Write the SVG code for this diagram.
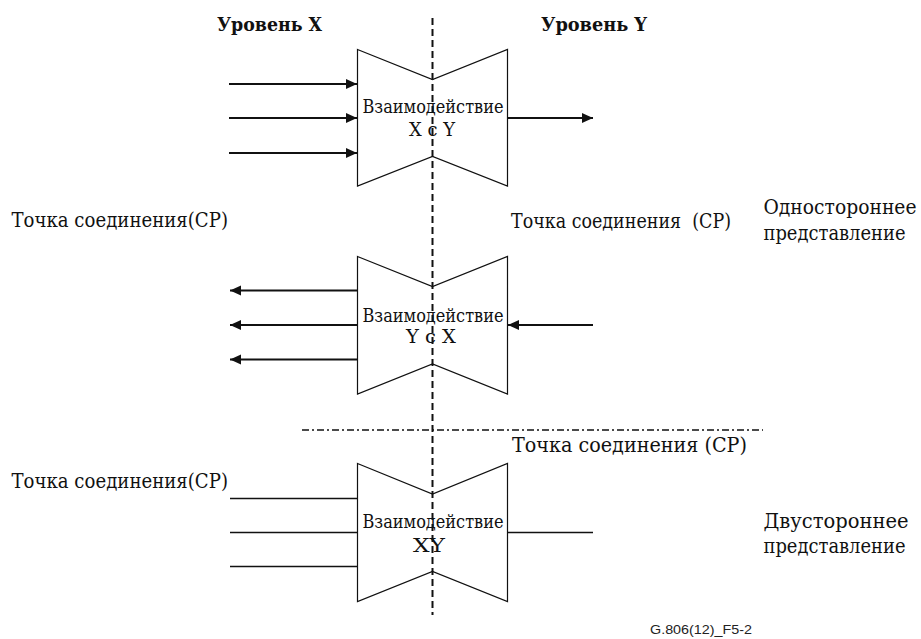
<svg xmlns="http://www.w3.org/2000/svg" width="921" height="639" viewBox="0 0 921 639">
<style>
.t{font-family:"DejaVu Serif","Liberation Serif",serif;font-size:21px;font-stretch:condensed;fill:#111;white-space:pre}
.i{font-size:18.5px}
.b{font-weight:bold;font-size:18px}
.c{text-anchor:middle}
.s{font-family:"Liberation Sans",Arial,sans-serif;font-size:13.5px;fill:#222}
.shape{fill:#fff;stroke:#111;stroke-width:1.2}
.arr{stroke:#111;stroke-width:2;fill:none}
.ln{stroke:#111;stroke-width:1.4;fill:none}
</style>
<defs>
<marker id="ah" markerUnits="userSpaceOnUse" markerWidth="12" markerHeight="12" viewBox="0 0 12 12" refX="11" refY="6" orient="auto">
<path d="M0,1 L11,6 L0,11 Z" fill="#111"/>
</marker>
</defs>
<g id="header">
<text class="t b" x="217" y="31" textLength="105" lengthAdjust="spacingAndGlyphs">Уровень X</text>
<text class="t b" x="541" y="31" textLength="106" lengthAdjust="spacingAndGlyphs">Уровень Y</text>
</g>
<g id="node-xy-top">
<path class="shape" d="M357.5,49.5 L432.5,79.5 L507.5,49.5 L507.5,186 L432.5,156.5 L357.5,186 Z"/>
<text class="t i c" x="433" y="112.5" textLength="141" lengthAdjust="spacingAndGlyphs">Взаимодействие</text>
<text class="t i c" x="432" y="136" textLength="46" lengthAdjust="spacingAndGlyphs">X c Y</text>
</g>
<g id="node-yx-mid">
<path class="shape" d="M357.5,256.5 L432.5,286.5 L507.5,256.5 L507.5,394 L432.5,364 L357.5,394 Z"/>
<text class="t i c" x="433" y="321.5" textLength="141" lengthAdjust="spacingAndGlyphs">Взаимодействие</text>
<text class="t i c" x="431" y="343" textLength="50" lengthAdjust="spacingAndGlyphs">Y c X</text>
</g>
<g id="node-xy-bottom">
<path class="shape" d="M357.5,463.5 L432.5,494 L507.5,463.5 L507.5,601.5 L432.5,571.5 L357.5,601.5 Z"/>
<text class="t i c" x="433" y="527.5" textLength="141" lengthAdjust="spacingAndGlyphs">Взаимодействие</text>
<text class="t i c" x="429" y="552" textLength="32" lengthAdjust="spacingAndGlyphs">XY</text>
</g>
<g id="connectors">
<line class="arr" x1="229" y1="84" x2="357" y2="84" marker-end="url(#ah)"/>
<line class="arr" x1="229" y1="118" x2="357" y2="118" marker-end="url(#ah)"/>
<line class="arr" x1="229" y1="153" x2="357" y2="153" marker-end="url(#ah)"/>
<line class="arr" x1="508" y1="118" x2="593" y2="118" marker-end="url(#ah)"/>
<line class="arr" x1="357" y1="290.5" x2="230" y2="290.5" marker-end="url(#ah)"/>
<line class="arr" x1="357" y1="325" x2="230" y2="325" marker-end="url(#ah)"/>
<line class="arr" x1="357" y1="359.5" x2="230" y2="359.5" marker-end="url(#ah)"/>
<line class="arr" x1="593" y1="325" x2="508" y2="325" marker-end="url(#ah)"/>
<line class="ln" x1="230" y1="498.5" x2="357.5" y2="498.5"/>
<line class="ln" x1="230" y1="532.5" x2="357.5" y2="532.5"/>
<line class="ln" x1="230" y1="566.5" x2="357.5" y2="566.5"/>
<line class="ln" x1="507.5" y1="532.5" x2="593" y2="532.5"/>
</g>
<g id="labels">
<text class="t" x="11.5" y="227" textLength="216.5" lengthAdjust="spacingAndGlyphs">Точка соединения(CP)</text>
<text class="t" x="511" y="228" textLength="220" lengthAdjust="spacingAndGlyphs">Точка соединения  (CP)</text>
<text class="t" x="763.5" y="214" textLength="153" lengthAdjust="spacingAndGlyphs">Одностороннее</text>
<text class="t" x="763.5" y="239.5" textLength="142" lengthAdjust="spacingAndGlyphs">представление</text>
<text class="t" x="512" y="451.5" textLength="235" lengthAdjust="spacingAndGlyphs">Точка соединения (CP)</text>
<text class="t" x="11.5" y="488" textLength="216.5" lengthAdjust="spacingAndGlyphs">Точка соединения(CP)</text>
<text class="t" x="763.5" y="528" textLength="145" lengthAdjust="spacingAndGlyphs">Двустороннее</text>
<text class="t" x="763.5" y="553" textLength="142" lengthAdjust="spacingAndGlyphs">представление</text>
<text class="s" x="650" y="634" textLength="102" lengthAdjust="spacingAndGlyphs">G.806(12)_F5-2</text>
</g>
<g id="dividers">
<line x1="302" y1="430" x2="763" y2="430" stroke="#111" stroke-width="1.5" stroke-dasharray="7,3,2,3"/>
<line x1="432.5" y1="18" x2="432.5" y2="615" stroke="#111" stroke-width="2" stroke-dasharray="7,4"/>
</g>
</svg>
